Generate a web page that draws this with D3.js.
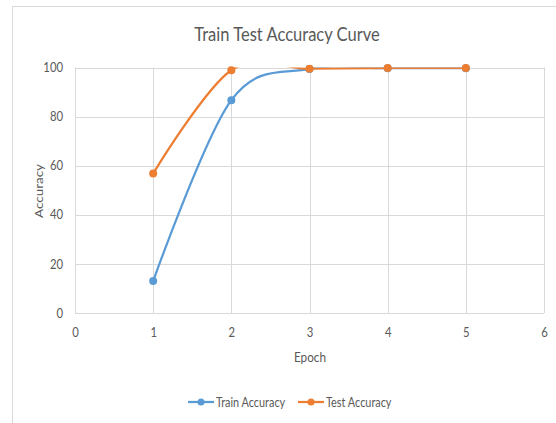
<!DOCTYPE html>
<html><head><meta charset="utf-8">
<script src="https://cdn.jsdelivr.net/npm/d3@7"></script>
<style>body{margin:0;background:#fff;}svg{display:block;font-family:Lato,"Open Sans",sans-serif;}</style>
</head><body>
<svg id="c" width="556" height="423"></svg>
<script>
const epochs = [1, 2, 3, 4, 5];
const trainAcc = [13, 86.7, 99.4, 99.7, 99.7];
const testAcc = [56.8, 98.9, 99.5, 99.8, 99.8];
const xTicks = [0, 1, 2, 3, 4, 5, 6];
const yTicks = [0, 20, 40, 60, 80, 100];
const seriesNames = ["Train Accuracy", "Test Accuracy"];
const colors = ["#5b9bd5", "#ed7d31"];

const SX = 0.87; // horizontal squeeze of the lettering
const svg = d3.select("#c");
const grey = "#595959", gridC = "#d9d9d9";
svg.append("rect").attr("x", 12.5).attr("y", 6.5).attr("width", 560).attr("height", 430)
  .attr("fill", "#fff").attr("stroke", gridC);

const x = d3.scaleLinear().domain([0, 6]).range([75, 544]);
const y = d3.scaleLinear().domain([0, 100]).range([313, 67.5]);

const g = svg.append("g");
g.selectAll(".hg").data(yTicks).join("line")
  .attr("x1", x(0)).attr("x2", x(6)).attr("y1", d => Math.round(y(d)) + 0.5).attr("y2", d => Math.round(y(d)) + 0.5)
  .attr("stroke", gridC);
g.selectAll(".vg").data(xTicks).join("line")
  .attr("y1", y(0)).attr("y2", y(100)).attr("x1", d => Math.round(x(d)) + 0.5).attr("x2", d => Math.round(x(d)) + 0.5)
  .attr("stroke", gridC);

const xa = svg.append("g").attr("transform", `translate(0,${y(0)})`)
  .call(d3.axisBottom(x).tickValues(xTicks).tickSize(0).tickPadding(15).tickFormat(d3.format("d")));
const ya = svg.append("g").attr("transform", `translate(${x(0)},0)`)
  .call(d3.axisLeft(y).tickValues(yTicks).tickSize(0).tickPadding(12 / SX).tickFormat(d3.format("d")));
[xa, ya].forEach(a => {
  a.select(".domain").remove();
  a.selectAll("text").attr("fill", grey).attr("transform", `scale(${SX},1)`)
    .style("font-size", "13px").style("font-family", 'Lato,"Open Sans",sans-serif');
});

function label(txt, px, py, size) {
  svg.append("text").attr("transform", `translate(${px},${py}) scale(${SX},1)`)
    .attr("text-anchor", "middle").attr("fill", grey).style("font-size", size + "px").text(txt);
}
label("Train Test Accuracy Curve", 287, 41, 19);
label("Epoch", 310, 362, 13.5);
svg.append("text").attr("transform", "translate(43,191) rotate(-90) scale(1,0.87)").attr("text-anchor", "middle")
  .attr("fill", grey).style("font-size", "13.5px").text("Accuracy");

svg.append("clipPath").attr("id", "plotclip").append("rect")
  .attr("x", x(0)).attr("y", y(100)).attr("width", x(6) - x(0)).attr("height", y(0) - y(100));

const line = d3.line().x(d => x(d[0])).y(d => y(d[1])).curve(d3.curveCardinal.tension(0));
const series = [trainAcc, testAcc];
series.forEach((vals, i) => {
  const pts = epochs.map((e, j) => [e, vals[j]]);
  svg.append("path").datum(pts).attr("d", line).attr("fill", "none").attr("clip-path", "url(#plotclip)")
    .attr("stroke", colors[i]).attr("stroke-width", 2.25);
  svg.selectAll(".m" + i).data(pts).join("circle")
    .attr("cx", d => x(d[0])).attr("cy", d => y(d[1])).attr("r", 4).attr("fill", colors[i]);
});

const legX = [188, 298];
seriesNames.forEach((n, i) => {
  const lg = svg.append("g").attr("transform", `translate(${legX[i]},402)`);
  lg.append("line").attr("x1", 0).attr("x2", 26).attr("stroke", colors[i]).attr("stroke-width", 2.25);
  lg.append("circle").attr("cx", 13).attr("r", 3.5).attr("fill", colors[i]);
  lg.append("text").attr("transform", `translate(28,4.5) scale(${SX},1)`).attr("fill", grey)
    .style("font-size", "12.5px").text(n);
});
</script>
</body></html>
